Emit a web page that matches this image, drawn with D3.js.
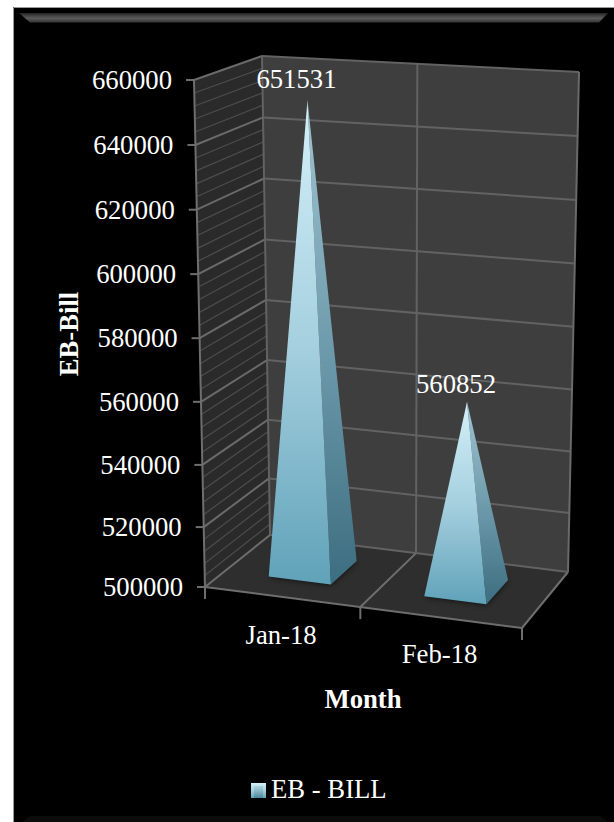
<!DOCTYPE html>
<html>
<head>
<meta charset="utf-8">
<style>
  html, body { margin: 0; padding: 0; background: #fff; }
  svg { display: block; }
  text { font-family: "Liberation Serif", "Times New Roman", serif; fill: #fff; }
</style>
<script src="https://cdn.jsdelivr.net/npm/d3@7"></script>
</head>
<body>
<svg id="chart" width="614" height="822"></svg>
<script>
// Monthly electricity bill values
const months = ["Jan-18", "Feb-18"];
const billValues = [651531, 560852];
const seriesName = "EB - BILL";
const yTicks = [500000, 520000, 540000, 560000, 580000, 600000, 620000, 640000, 660000];
const yMinorStep = [4000];
const yTitle = "EB-Bill";
const xTitle = "Month";

const W = 614, H = 822;
const FONT = 26.7;
const svg = d3.select("#chart");
const defs = svg.append("defs");

// Corners of the 3D plot box, in screen space
const box = {
  floor: { fl: [205, 587], fr: [522, 628], bl: [270, 535], br: [568, 572] },
  top:   { fl: [194, 80],  fr: [520, 113], bl: [262, 56],  br: [579, 72] }
};

// Slight perspective along the value axis
const valueScale = d3.scalePow().exponent(1.027)
  .domain([0, yTicks[yTicks.length - 1] - yTicks[0]]).range([0, 1]);
const hFrac = v => valueScale(v - yTicks[0]);

const uScale = d3.scaleBand().domain(months)
  .range([-0.01, 0.99]).paddingInner(0.6).paddingOuter(0.3);
const divider = (uScale(months[0]) + uScale.bandwidth() + uScale(months[1])) / 2;
const depthFront = 0.31, depthBack = 0.75;

const mix = (a, b, t) => [a[0] + (b[0] - a[0]) * t, a[1] + (b[1] - a[1]) * t];
const onPlane = (p, u, d) => mix(mix(p.fl, p.fr, u), mix(p.bl, p.br, u), d);
const project = (u, d, h) => mix(onPlane(box.floor, u, d), onPlane(box.top, u, d), h);
const poly = pts => "M" + pts.map(p => p.map(n => n.toFixed(2)).join(",")).join("L") + "Z";
const seg = (a, b, color, width) => svg.append("line")
  .attr("x1", a[0]).attr("y1", a[1]).attr("x2", b[0]).attr("y2", b[1])
  .attr("stroke", color).attr("stroke-width", width);

// Page panel with a thin edge on its top and left sides only
svg.append("rect").attr("x", 13).attr("y", 7).attr("width", W - 13).attr("height", H - 7)
  .attr("fill", "#000");
seg([13.5, 7.5], [W, 7.5], "#9a9a9a", 1);
seg([13.5, 7.5], [13.5, H], "#9a9a9a", 1);

// Bevel strips along the top and bottom of the panel
const bevel = defs.append("linearGradient").attr("id", "bevel")
  .attr("x1", 0).attr("y1", 0).attr("x2", 0).attr("y2", 1);
bevel.append("stop").attr("offset", 0).attr("stop-color", "#242424");
bevel.append("stop").attr("offset", 0.55).attr("stop-color", "#5c5c5c");
bevel.append("stop").attr("offset", 1).attr("stop-color", "#333");
svg.append("path").attr("d", poly([[19, 13], [608, 13], [599, 22.5], [30, 22.5]]))
  .attr("fill", "url(#bevel)");
svg.append("path").attr("d", poly([[30, 816], [600, 816], [608, H], [22, H]]))
  .attr("fill", "#0c0c0c");

// Walls and floor
svg.append("path").attr("fill", "#2a2a2a")
  .attr("d", poly([box.floor.fl, box.floor.bl, box.top.bl, box.top.fl]));
svg.append("path").attr("fill", "#3e3e3e")
  .attr("d", poly([box.floor.bl, box.floor.br, box.top.br, box.top.bl]));
svg.append("path").attr("fill", "#2e2e2e")
  .attr("d", poly([box.floor.fl, box.floor.fr, box.floor.br, box.floor.bl]));

// Minor gridlines on the side wall
const minorTicks = d3.range(yTicks[0], yTicks[yTicks.length - 1], yMinorStep[0])
  .filter(v => !yTicks.includes(v));
minorTicks.forEach(v => seg(project(0, 0, hFrac(v)), project(0, 1, hFrac(v)), "#4d4d4d", 1.2));

// Major gridlines on the side and back walls
yTicks.forEach((v, i) => {
  const h = hFrac(v);
  if (i === 0) return;
  seg(project(0, 0, h), project(0, 1, h), "#6a6a6a", 2);
  seg(project(0, 1, h), project(1, 1, h), "#626262", 2);
});

// Box edges and category divider
const edge = "#6e6e6e";
seg(box.floor.fl, box.top.fl, edge, 2);
seg(box.floor.bl, box.top.bl, "#626262", 2);
seg(box.floor.br, box.top.br, "#6a6a6a", 2);
seg(box.floor.fl, box.floor.fr, edge, 2);
seg(box.floor.fl, box.floor.bl, edge, 2);
seg(box.floor.fr, box.floor.br, edge, 2);
seg(box.floor.bl, box.floor.br, "#626262", 2);
seg(project(divider, 0, 0), project(divider, 1, 0), edge, 2);
seg(project(divider, 1, 0), project(divider, 1, 1), "#626262", 2);

// Value axis ticks and labels
yTicks.forEach(v => {
  const p = project(0, 0, hFrac(v));
  seg([p[0] - 8, p[1]], p, edge, 2);
  svg.append("text").attr("x", p[0] - 22).attr("y", p[1] + 3)
    .attr("text-anchor", "end").attr("dominant-baseline", "middle")
    .attr("font-size", FONT).text(v);
});

// Category axis ticks and labels
[0, divider, 1].forEach(u => {
  const p = project(u, 0, 0);
  seg(p, [p[0], p[1] + 12], edge, 2);
});
months.forEach((m, i) => {
  const p = project(uScale(m) + uScale.bandwidth() / 2, 0, 0);
  svg.append("text").attr("x", p[0]).attr("y", p[1] + 47 - i)
    .attr("text-anchor", "middle").attr("font-size", FONT).text(m);
});

// Axis titles
svg.append("text").attr("transform", "translate(78,334) rotate(-90)")
  .attr("text-anchor", "middle").attr("font-size", FONT).attr("font-weight", "bold").text(yTitle);
svg.append("text").attr("x", 363).attr("y", 708)
  .attr("text-anchor", "middle").attr("font-size", FONT).attr("font-weight", "bold").text(xTitle);

// Pyramid gradients: light at the apex, saturated at the base
const frontGrad = defs.append("linearGradient").attr("id", "pyrFront")
  .attr("x1", 0).attr("y1", 0).attr("x2", 0).attr("y2", 1);
frontGrad.append("stop").attr("offset", 0).attr("stop-color", "#d4f0f9");
frontGrad.append("stop").attr("offset", 0.5).attr("stop-color", "#a6d0df");
frontGrad.append("stop").attr("offset", 1).attr("stop-color", "#60a2b9");
const sideGrad = defs.append("linearGradient").attr("id", "pyrSide")
  .attr("x1", 0).attr("y1", 0).attr("x2", 0).attr("y2", 1);
sideGrad.append("stop").attr("offset", 0).attr("stop-color", "#a0c4d0");
sideGrad.append("stop").attr("offset", 0.5).attr("stop-color", "#6f9cad");
sideGrad.append("stop").attr("offset", 1).attr("stop-color", "#3c6d80");
defs.append("filter").attr("id", "soft").attr("x", "-30%").attr("y", "-30%")
  .attr("width", "160%").attr("height", "160%")
  .append("feGaussianBlur").attr("stdDeviation", 3);

// Pyramids with their soft floor shadow and value label
months.forEach((m, i) => {
  const u0 = uScale(m), u1 = u0 + uScale.bandwidth();
  const apex = project((u0 + u1) / 2, (depthFront + depthBack) / 2, hFrac(billValues[i]));
  const fl = project(u0, depthFront, 0), fr = project(u1, depthFront, 0);
  const bl = project(u0, depthBack, 0), br = project(u1, depthBack, 0);
  svg.append("path").attr("d", poly([fl, fr, br, bl])).attr("fill", "#000")
    .attr("opacity", 0.75).attr("filter", "url(#soft)");
  svg.append("path").attr("d", poly([apex, fr, br])).attr("fill", "url(#pyrSide)");
  svg.append("path").attr("d", poly([apex, fl, fr])).attr("fill", "url(#pyrFront)");
  svg.append("text").attr("x", apex[0] - 11).attr("y", apex[1] - (i === 0 ? 12 : 9))
    .attr("text-anchor", "middle").attr("font-size", FONT).text(billValues[i]);
});

// Legend key: a small pillow-shaded square, then the series name
svg.append("rect").attr("x", 251).attr("y", 783).attr("width", 15).attr("height", 15)
  .attr("fill", "url(#pyrFront)");
svg.append("rect").attr("x", 254).attr("y", 786).attr("width", 9).attr("height", 12)
  .attr("fill", "url(#pyrSide)").attr("opacity", 0.55);
svg.append("text").attr("x", 271).attr("y", 798).attr("font-size", FONT).text(seriesName);
</script>
</body>
</html>
